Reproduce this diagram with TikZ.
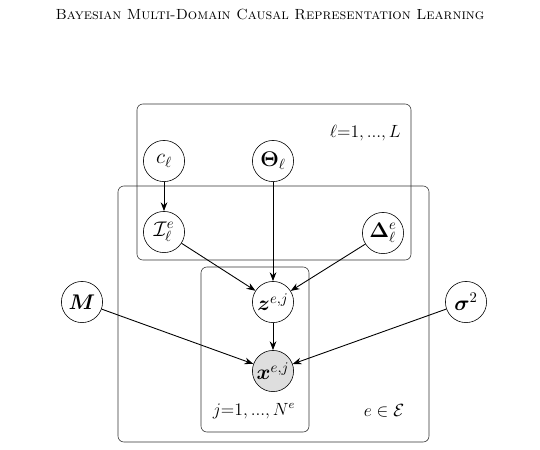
\documentclass[tikz,border=0pt]{standalone}
\usepackage{bm}
\usetikzlibrary{arrows.meta}
\definecolor{obsgray}{HTML}{DEDEDE}
\tikzset{
  latent/.style={circle,draw=black,thin,minimum size=28pt,inner sep=0pt,fill=white,font=\Large},
  observed/.style={latent,fill=obsgray},
  plate/.style={draw=black!80,thin,rounded corners=4pt},
  platelabel/.style={font=\large},
  edge/.style={-{Stealth[length=6pt,width=4.5pt]},semithick},
}
\begin{document}
\begin{tikzpicture}[x=0.68pt,y=-0.68pt]
\useasboundingbox (0,0) rectangle (540,449);
\node (title) at (270,14) {\textsc{Bayesian Multi-Domain Causal Representation Learning}};
% plates
\draw[plate] (137,104) rectangle (411,260);
\draw[plate] (118,186) rectangle (429,442);
\draw[plate] (201,267) rectangle (309,432);
\node[anchor=east,platelabel] (lplate) at (406,133) {$\ell{=}1,...,L$};
\node[platelabel] (jplate) at (254,411) {$j{=}1,...,N^e$};
\node[platelabel] (eplate) at (384,411) {$e\in\mathcal{E}$};
% nodes
\node[latent] (c) at (164,161) {$c_\ell$};
\node[latent] (theta) at (273,161) {$\bm{\Theta}_\ell$};
\node[latent] (I) at (164,232) {$\mathcal{I}_\ell^e$};
\node[latent] (delta) at (383,233) {$\bm{\Delta}_\ell^e$};
\node[latent] (z) at (273,302) {$\bm{z}^{e,j}$};
\node[observed] (x) at (273,371) {$\bm{x}^{e,j}$};
\node[latent] (M) at (82,302) {$\bm{M}$};
\node[latent] (sigma) at (466,302) {$\bm{\sigma}^2$};
% edges
\draw[edge] (c) -- (I);
\draw[edge] (theta) -- (z);
\draw[edge] (I) -- (z);
\draw[edge] (delta) -- (z);
\draw[edge] (z) -- (x);
\draw[edge] (M) -- (x);
\draw[edge] (sigma) -- (x);
\end{tikzpicture}
\end{document}
